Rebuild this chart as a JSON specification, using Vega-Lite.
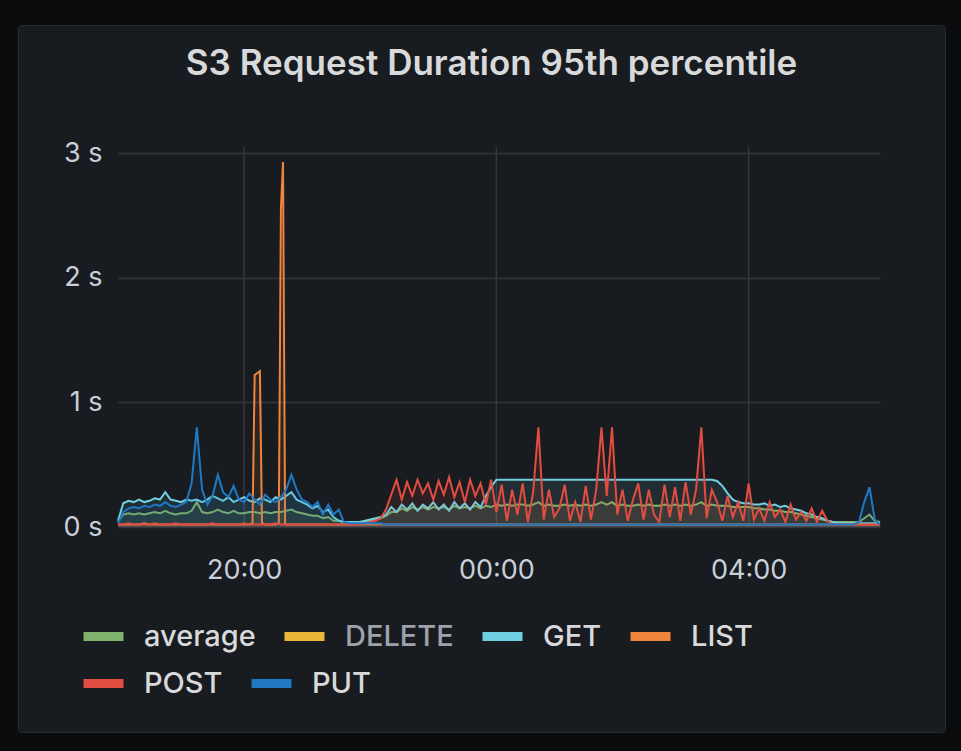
{
"$schema": "https://vega.github.io/schema/vega-lite/v6.json",
"width": 927, "height": 707,
"autosize": {"type": "none"},
"padding": {"left": 18, "top": 25, "right": 16, "bottom": 19},
"background": "#0b0c0e",
"view": {"fill": "#181b1f", "stroke": "#26292e", "strokeWidth": 1, "cornerRadius": 3},
"config": {"legend": {"gridAlign": "none"}},
"title": {"text": "S3 Request Duration 95th percentile", "frame": "group", "anchor": "middle", "orient": "top", "offset": -85, "baseline": "alphabetic", "dx": 10, "font": "Inter", "fontSize": 35, "fontWeight": 600, "color": "#d8d9da"},
"datasets": {
"grid": [{"t":"2024-01-01T20:00"},{"t":"2024-01-02T00:00"},{"t":"2024-01-02T04:00"}],
"s3": [
{"t":"2024-01-01T18:00","average":0.04,"GET":0.05,"LIST":0.02,"POST":0.02,"PUT":0.03},
{"t":"2024-01-01T18:05","average":0.1,"GET":0.19,"LIST":0.02,"POST":0.02,"PUT":0.12},
{"t":"2024-01-01T18:10","average":0.11,"GET":0.21,"LIST":0.02,"POST":0.03,"PUT":0.15},
{"t":"2024-01-01T18:15","average":0.1,"GET":0.2,"LIST":0.02,"POST":0.02,"PUT":0.16},
{"t":"2024-01-01T18:20","average":0.11,"GET":0.22,"LIST":0.02,"POST":0.02,"PUT":0.15},
{"t":"2024-01-01T18:25","average":0.1,"GET":0.2,"LIST":0.03,"POST":0.02,"PUT":0.17},
{"t":"2024-01-01T18:30","average":0.11,"GET":0.21,"LIST":0.02,"POST":0.02,"PUT":0.16},
{"t":"2024-01-01T18:35","average":0.12,"GET":0.23,"LIST":0.02,"POST":0.03,"PUT":0.18},
{"t":"2024-01-01T18:40","average":0.11,"GET":0.22,"LIST":0.02,"POST":0.02,"PUT":0.17},
{"t":"2024-01-01T18:45","average":0.13,"GET":0.28,"LIST":0.02,"POST":0.02,"PUT":0.2},
{"t":"2024-01-01T18:50","average":0.11,"GET":0.22,"LIST":0.02,"POST":0.02,"PUT":0.17},
{"t":"2024-01-01T18:55","average":0.1,"GET":0.21,"LIST":0.02,"POST":0.03,"PUT":0.16},
{"t":"2024-01-01T19:00","average":0.11,"GET":0.2,"LIST":0.02,"POST":0.02,"PUT":0.18},
{"t":"2024-01-01T19:05","average":0.11,"GET":0.22,"LIST":0.02,"POST":0.02,"PUT":0.2},
{"t":"2024-01-01T19:10","average":0.13,"GET":0.21,"LIST":0.02,"POST":0.02,"PUT":0.35},
{"t":"2024-01-01T19:15","average":0.2,"GET":0.22,"LIST":0.02,"POST":0.02,"PUT":0.8},
{"t":"2024-01-01T19:20","average":0.12,"GET":0.2,"LIST":0.02,"POST":0.02,"PUT":0.3},
{"t":"2024-01-01T19:25","average":0.11,"GET":0.22,"LIST":0.02,"POST":0.02,"PUT":0.18},
{"t":"2024-01-01T19:30","average":0.12,"GET":0.25,"LIST":0.02,"POST":0.03,"PUT":0.25},
{"t":"2024-01-01T19:35","average":0.14,"GET":0.23,"LIST":0.02,"POST":0.02,"PUT":0.42},
{"t":"2024-01-01T19:40","average":0.12,"GET":0.21,"LIST":0.02,"POST":0.02,"PUT":0.28},
{"t":"2024-01-01T19:45","average":0.11,"GET":0.24,"LIST":0.02,"POST":0.02,"PUT":0.24},
{"t":"2024-01-01T19:50","average":0.13,"GET":0.2,"LIST":0.02,"POST":0.02,"PUT":0.33},
{"t":"2024-01-01T19:55","average":0.11,"GET":0.22,"LIST":0.02,"POST":0.02,"PUT":0.22},
{"t":"2024-01-01T20:00","average":0.11,"GET":0.24,"LIST":0.02,"POST":0.03,"PUT":0.2},
{"t":"2024-01-01T20:05","average":0.12,"GET":0.21,"LIST":0.02,"POST":0.02,"PUT":0.27},
{"t":"2024-01-01T20:08","LIST":0.03},
{"t":"2024-01-01T20:10","average":0.12,"GET":0.2,"LIST":1.22,"POST":0.02,"PUT":0.22},
{"t":"2024-01-01T20:15","average":0.11,"GET":0.23,"LIST":1.25,"POST":0.02,"PUT":0.18},
{"t":"2024-01-01T20:17","LIST":0.03},
{"t":"2024-01-01T20:20","average":0.12,"GET":0.22,"LIST":0.02,"POST":0.02,"PUT":0.26},
{"t":"2024-01-01T20:25","average":0.11,"GET":0.2,"LIST":0.02,"POST":0.02,"PUT":0.22},
{"t":"2024-01-01T20:30","average":0.12,"GET":0.24,"LIST":0.02,"POST":0.03,"PUT":0.2},
{"t":"2024-01-01T20:33","LIST":0.03},
{"t":"2024-01-01T20:35","average":0.12,"GET":0.22,"LIST":2.55,"POST":0.02,"PUT":0.24},
{"t":"2024-01-01T20:37","LIST":2.93},
{"t":"2024-01-01T20:39","LIST":0.03},
{"t":"2024-01-01T20:40","average":0.13,"GET":0.25,"LIST":0.02,"POST":0.02,"PUT":0.3},
{"t":"2024-01-01T20:45","average":0.14,"GET":0.28,"LIST":0.02,"POST":0.02,"PUT":0.42},
{"t":"2024-01-01T20:50","average":0.12,"GET":0.22,"LIST":0.02,"POST":0.02,"PUT":0.3},
{"t":"2024-01-01T20:55","average":0.11,"GET":0.2,"LIST":0.02,"POST":0.02,"PUT":0.22},
{"t":"2024-01-01T21:00","average":0.1,"GET":0.18,"LIST":0.02,"POST":0.02,"PUT":0.2},
{"t":"2024-01-01T21:05","average":0.09,"GET":0.15,"LIST":0.02,"POST":0.02,"PUT":0.16},
{"t":"2024-01-01T21:10","average":0.09,"GET":0.17,"LIST":0.02,"POST":0.02,"PUT":0.2},
{"t":"2024-01-01T21:15","average":0.07,"GET":0.12,"LIST":0.02,"POST":0.02,"PUT":0.1},
{"t":"2024-01-01T21:20","average":0.08,"GET":0.14,"LIST":0.02,"POST":0.02,"PUT":0.18},
{"t":"2024-01-01T21:25","average":0.05,"GET":0.08,"LIST":0.02,"POST":0.02,"PUT":0.1},
{"t":"2024-01-01T21:30","average":0.05,"GET":0.05,"LIST":0.02,"POST":0.02,"PUT":0.14},
{"t":"2024-01-01T21:35","average":0.04,"GET":0.04,"LIST":0.02,"POST":0.02,"PUT":0.04},
{"t":"2024-01-01T21:40","average":0.04,"GET":0.04,"LIST":0.02,"POST":0.02,"PUT":0.03},
{"t":"2024-01-01T21:45","average":0.04,"GET":0.04,"LIST":0.02,"POST":0.02,"PUT":0.03},
{"t":"2024-01-01T21:50","average":0.04,"GET":0.04,"LIST":0.02,"POST":0.02,"PUT":0.03},
{"t":"2024-01-01T21:55","average":0.04,"GET":0.05,"LIST":0.02,"POST":0.03,"PUT":0.03},
{"t":"2024-01-01T22:00","average":0.05,"GET":0.06,"LIST":0.02,"POST":0.04,"PUT":0.03},
{"t":"2024-01-01T22:05","average":0.06,"GET":0.07,"LIST":0.02,"POST":0.05,"PUT":0.03},
{"t":"2024-01-01T22:10","average":0.07,"GET":0.08,"LIST":0.02,"POST":0.07,"PUT":0.03},
{"t":"2024-01-01T22:15","average":0.09,"GET":0.1,"LIST":0.02,"POST":0.14,"PUT":0.02},
{"t":"2024-01-01T22:20","average":0.12,"GET":0.16,"LIST":0.02,"POST":0.26,"PUT":0.02},
{"t":"2024-01-01T22:25","average":0.12,"GET":0.12,"LIST":0.02,"POST":0.38,"PUT":0.02},
{"t":"2024-01-01T22:30","average":0.15,"GET":0.18,"LIST":0.02,"POST":0.22,"PUT":0.02},
{"t":"2024-01-01T22:35","average":0.13,"GET":0.14,"LIST":0.02,"POST":0.36,"PUT":0.02},
{"t":"2024-01-01T22:40","average":0.16,"GET":0.19,"LIST":0.02,"POST":0.25,"PUT":0.02},
{"t":"2024-01-01T22:45","average":0.14,"GET":0.13,"LIST":0.02,"POST":0.38,"PUT":0.02},
{"t":"2024-01-01T22:50","average":0.16,"GET":0.18,"LIST":0.02,"POST":0.27,"PUT":0.02},
{"t":"2024-01-01T22:55","average":0.14,"GET":0.15,"LIST":0.02,"POST":0.35,"PUT":0.02},
{"t":"2024-01-01T23:00","average":0.16,"GET":0.2,"LIST":0.02,"POST":0.22,"PUT":0.02},
{"t":"2024-01-01T23:05","average":0.15,"GET":0.14,"LIST":0.02,"POST":0.37,"PUT":0.02},
{"t":"2024-01-01T23:10","average":0.16,"GET":0.18,"LIST":0.02,"POST":0.26,"PUT":0.02},
{"t":"2024-01-01T23:15","average":0.14,"GET":0.13,"LIST":0.02,"POST":0.4,"PUT":0.02},
{"t":"2024-01-01T23:20","average":0.17,"GET":0.2,"LIST":0.02,"POST":0.24,"PUT":0.02},
{"t":"2024-01-01T23:25","average":0.15,"GET":0.15,"LIST":0.02,"POST":0.36,"PUT":0.02},
{"t":"2024-01-01T23:30","average":0.16,"GET":0.19,"LIST":0.02,"POST":0.2,"PUT":0.02},
{"t":"2024-01-01T23:35","average":0.15,"GET":0.14,"LIST":0.02,"POST":0.38,"PUT":0.02},
{"t":"2024-01-01T23:40","average":0.17,"GET":0.2,"LIST":0.02,"POST":0.25,"PUT":0.02},
{"t":"2024-01-01T23:45","average":0.15,"GET":0.16,"LIST":0.02,"POST":0.35,"PUT":0.02},
{"t":"2024-01-01T23:50","average":0.17,"GET":0.25,"LIST":0.02,"POST":0.18,"PUT":0.02},
{"t":"2024-01-01T23:55","average":0.16,"GET":0.32,"LIST":0.02,"POST":0.38,"PUT":0.02},
{"t":"2024-01-02T00:00","average":0.18,"GET":0.38,"LIST":0.02,"POST":0.12,"PUT":0.02},
{"t":"2024-01-02T00:05","average":0.17,"GET":0.38,"LIST":0.02,"POST":0.34,"PUT":0.02},
{"t":"2024-01-02T00:10","average":0.18,"GET":0.38,"LIST":0.02,"POST":0.05,"PUT":0.02},
{"t":"2024-01-02T00:15","average":0.17,"GET":0.38,"LIST":0.02,"POST":0.3,"PUT":0.02},
{"t":"2024-01-02T00:20","average":0.18,"GET":0.38,"LIST":0.02,"POST":0.1,"PUT":0.02},
{"t":"2024-01-02T00:25","average":0.18,"GET":0.38,"LIST":0.02,"POST":0.35,"PUT":0.02},
{"t":"2024-01-02T00:30","average":0.17,"GET":0.38,"LIST":0.02,"POST":0.04,"PUT":0.02},
{"t":"2024-01-02T00:35","average":0.18,"GET":0.38,"LIST":0.02,"POST":0.28,"PUT":0.02},
{"t":"2024-01-02T00:40","average":0.2,"GET":0.38,"LIST":0.02,"POST":0.8,"PUT":0.02},
{"t":"2024-01-02T00:45","average":0.17,"GET":0.38,"LIST":0.02,"POST":0.06,"PUT":0.02},
{"t":"2024-01-02T00:50","average":0.18,"GET":0.38,"LIST":0.02,"POST":0.3,"PUT":0.02},
{"t":"2024-01-02T00:55","average":0.17,"GET":0.38,"LIST":0.02,"POST":0.08,"PUT":0.02},
{"t":"2024-01-02T01:00","average":0.17,"GET":0.38,"LIST":0.02,"POST":0.15,"PUT":0.02},
{"t":"2024-01-02T01:05","average":0.18,"GET":0.38,"LIST":0.02,"POST":0.34,"PUT":0.02},
{"t":"2024-01-02T01:10","average":0.17,"GET":0.38,"LIST":0.02,"POST":0.05,"PUT":0.02},
{"t":"2024-01-02T01:15","average":0.18,"GET":0.38,"LIST":0.02,"POST":0.2,"PUT":0.02},
{"t":"2024-01-02T01:20","average":0.17,"GET":0.38,"LIST":0.02,"POST":0.04,"PUT":0.02},
{"t":"2024-01-02T01:25","average":0.18,"GET":0.38,"LIST":0.02,"POST":0.33,"PUT":0.02},
{"t":"2024-01-02T01:30","average":0.17,"GET":0.38,"LIST":0.02,"POST":0.06,"PUT":0.02},
{"t":"2024-01-02T01:35","average":0.18,"GET":0.38,"LIST":0.02,"POST":0.3,"PUT":0.02},
{"t":"2024-01-02T01:40","average":0.2,"GET":0.38,"LIST":0.02,"POST":0.8,"PUT":0.02},
{"t":"2024-01-02T01:45","average":0.18,"GET":0.38,"LIST":0.02,"POST":0.25,"PUT":0.02},
{"t":"2024-01-02T01:50","average":0.2,"GET":0.38,"LIST":0.02,"POST":0.8,"PUT":0.02},
{"t":"2024-01-02T01:55","average":0.17,"GET":0.38,"LIST":0.02,"POST":0.1,"PUT":0.02},
{"t":"2024-01-02T02:00","average":0.18,"GET":0.38,"LIST":0.02,"POST":0.3,"PUT":0.02},
{"t":"2024-01-02T02:05","average":0.17,"GET":0.38,"LIST":0.02,"POST":0.05,"PUT":0.02},
{"t":"2024-01-02T02:10","average":0.17,"GET":0.38,"LIST":0.02,"POST":0.22,"PUT":0.02},
{"t":"2024-01-02T02:15","average":0.18,"GET":0.38,"LIST":0.02,"POST":0.35,"PUT":0.02},
{"t":"2024-01-02T02:20","average":0.17,"GET":0.38,"LIST":0.02,"POST":0.06,"PUT":0.02},
{"t":"2024-01-02T02:25","average":0.18,"GET":0.38,"LIST":0.02,"POST":0.3,"PUT":0.02},
{"t":"2024-01-02T02:30","average":0.17,"GET":0.38,"LIST":0.02,"POST":0.1,"PUT":0.02},
{"t":"2024-01-02T02:35","average":0.17,"GET":0.38,"LIST":0.02,"POST":0.04,"PUT":0.02},
{"t":"2024-01-02T02:40","average":0.18,"GET":0.38,"LIST":0.02,"POST":0.34,"PUT":0.02},
{"t":"2024-01-02T02:45","average":0.17,"GET":0.38,"LIST":0.02,"POST":0.08,"PUT":0.02},
{"t":"2024-01-02T02:50","average":0.18,"GET":0.38,"LIST":0.02,"POST":0.32,"PUT":0.02},
{"t":"2024-01-02T02:55","average":0.17,"GET":0.38,"LIST":0.02,"POST":0.05,"PUT":0.02},
{"t":"2024-01-02T03:00","average":0.18,"GET":0.38,"LIST":0.02,"POST":0.36,"PUT":0.02},
{"t":"2024-01-02T03:05","average":0.17,"GET":0.38,"LIST":0.02,"POST":0.1,"PUT":0.02},
{"t":"2024-01-02T03:10","average":0.18,"GET":0.38,"LIST":0.02,"POST":0.3,"PUT":0.02},
{"t":"2024-01-02T03:15","average":0.2,"GET":0.38,"LIST":0.02,"POST":0.8,"PUT":0.02},
{"t":"2024-01-02T03:20","average":0.17,"GET":0.38,"LIST":0.02,"POST":0.07,"PUT":0.02},
{"t":"2024-01-02T03:25","average":0.18,"GET":0.38,"LIST":0.02,"POST":0.3,"PUT":0.02},
{"t":"2024-01-02T03:30","average":0.17,"GET":0.37,"LIST":0.02,"POST":0.2,"PUT":0.02},
{"t":"2024-01-02T03:35","average":0.17,"GET":0.33,"LIST":0.02,"POST":0.05,"PUT":0.02},
{"t":"2024-01-02T03:40","average":0.17,"GET":0.27,"LIST":0.02,"POST":0.25,"PUT":0.02},
{"t":"2024-01-02T03:45","average":0.16,"GET":0.22,"LIST":0.02,"POST":0.08,"PUT":0.02},
{"t":"2024-01-02T03:50","average":0.16,"GET":0.2,"LIST":0.02,"POST":0.2,"PUT":0.02},
{"t":"2024-01-02T03:55","average":0.16,"GET":0.19,"LIST":0.02,"POST":0.05,"PUT":0.02},
{"t":"2024-01-02T04:00","average":0.16,"GET":0.19,"LIST":0.02,"POST":0.35,"PUT":0.02},
{"t":"2024-01-02T04:05","average":0.15,"GET":0.18,"LIST":0.02,"POST":0.06,"PUT":0.02},
{"t":"2024-01-02T04:10","average":0.15,"GET":0.18,"LIST":0.02,"POST":0.15,"PUT":0.02},
{"t":"2024-01-02T04:15","average":0.14,"GET":0.19,"LIST":0.02,"POST":0.05,"PUT":0.02},
{"t":"2024-01-02T04:20","average":0.14,"GET":0.17,"LIST":0.02,"POST":0.2,"PUT":0.02},
{"t":"2024-01-02T04:25","average":0.13,"GET":0.18,"LIST":0.02,"POST":0.08,"PUT":0.02},
{"t":"2024-01-02T04:30","average":0.13,"GET":0.16,"LIST":0.02,"POST":0.14,"PUT":0.02},
{"t":"2024-01-02T04:35","average":0.12,"GET":0.17,"LIST":0.02,"POST":0.04,"PUT":0.02},
{"t":"2024-01-02T04:40","average":0.12,"GET":0.15,"LIST":0.02,"POST":0.18,"PUT":0.02},
{"t":"2024-01-02T04:45","average":0.11,"GET":0.14,"LIST":0.02,"POST":0.06,"PUT":0.02},
{"t":"2024-01-02T04:50","average":0.1,"GET":0.13,"LIST":0.02,"POST":0.12,"PUT":0.02},
{"t":"2024-01-02T04:55","average":0.09,"GET":0.11,"LIST":0.02,"POST":0.05,"PUT":0.02},
{"t":"2024-01-02T05:00","average":0.08,"GET":0.1,"LIST":0.02,"POST":0.15,"PUT":0.02},
{"t":"2024-01-02T05:05","average":0.07,"GET":0.08,"LIST":0.02,"POST":0.04,"PUT":0.02},
{"t":"2024-01-02T05:10","average":0.06,"GET":0.07,"LIST":0.02,"POST":0.13,"PUT":0.02},
{"t":"2024-01-02T05:15","average":0.05,"GET":0.05,"LIST":0.02,"POST":0.05,"PUT":0.02},
{"t":"2024-01-02T05:20","average":0.04,"GET":0.04,"LIST":0.02,"POST":0.02,"PUT":0.02},
{"t":"2024-01-02T05:25","average":0.04,"GET":0.03,"LIST":0.02,"POST":0.02,"PUT":0.02},
{"t":"2024-01-02T05:30","average":0.04,"GET":0.03,"LIST":0.02,"POST":0.02,"PUT":0.02},
{"t":"2024-01-02T05:35","average":0.04,"GET":0.03,"LIST":0.02,"POST":0.02,"PUT":0.02},
{"t":"2024-01-02T05:40","average":0.04,"GET":0.03,"LIST":0.02,"POST":0.02,"PUT":0.02},
{"t":"2024-01-02T05:45","average":0.04,"GET":0.03,"LIST":0.02,"POST":0.02,"PUT":0.04},
{"t":"2024-01-02T05:50","average":0.07,"GET":0.03,"LIST":0.02,"POST":0.02,"PUT":0.2},
{"t":"2024-01-02T05:55","average":0.1,"GET":0.03,"LIST":0.02,"POST":0.02,"PUT":0.32},
{"t":"2024-01-02T06:00","average":0.05,"GET":0.03,"LIST":0.02,"POST":0.02,"PUT":0.06},
{"t":"2024-01-02T06:05","average":0.04,"GET":0.03,"LIST":0.02,"POST":0.02,"PUT":0.02}
]},
"layer": [
  {"data": {"name": "grid"},
   "mark": {"type": "rule", "color": "#34373c", "strokeWidth": 1.5},
   "encoding": {
     "x": {"field": "t", "type": "temporal"},
     "y": {"datum": 0, "type": "quantitative"},
     "y2": {"datum": 3.05}
   }},
  {"data": {"name": "s3"},
   "transform": [
     {"fold": ["average", "GET", "LIST"], "as": ["series", "v"]},
     {"filter": "isValid(datum.v)"}
   ],
   "encoding": {
     "x": {"field": "t", "type": "temporal"},
     "y": {"field": "v", "type": "quantitative", "stack": null},
     "color": {"field": "series", "type": "nominal",
       "scale": {"domain": ["average", "DELETE", "GET", "LIST"], "range": ["#7EB26D", "#EAB839", "#6ED0E0", "#EF843C"]},
       "legend": {"title": null, "orient": "none", "legendX": 61, "legendY": 587, "direction": "horizontal",
         "symbolType": "stroke", "symbolSize": 1600, "symbolStrokeWidth": 9, "symbolOpacity": 1, "labelFont": "Inter", "labelFontSize": 29, "labelFontWeight": 500, "labelColor": "#d8d9da",
         "labelOffset": 16, "columnPadding": 10, "padding": 0,
         "encode": {"labels": {"update": {"fill": {"signal": "datum.value === 'DELETE' ? '#9ea3ab' : '#d8d9da'"}}}}}}
   },
   "layer": [
     {"mark": {"type": "area", "fillOpacity": 0.1, "interpolate": "linear"}},
     {"mark": {"type": "line", "strokeWidth": 2, "interpolate": "linear"}}
   ]},
  {"data": {"name": "s3"},
   "transform": [
     {"fold": ["POST", "PUT"], "as": ["series", "v"]},
     {"filter": "isValid(datum.v)"}
   ],
   "encoding": {
     "x": {"field": "t", "type": "temporal"},
     "y": {"field": "v", "type": "quantitative", "stack": null},
     "color": {"field": "series", "type": "nominal",
       "scale": {"domain": ["POST", "PUT"], "range": ["#E24D42", "#1F78C1"]},
       "legend": {"title": null, "orient": "none", "legendX": 61, "legendY": 634, "direction": "horizontal",
         "symbolType": "stroke", "symbolSize": 1600, "symbolStrokeWidth": 9, "symbolOpacity": 1, "labelFont": "Inter", "labelFontSize": 29, "labelFontWeight": 500, "labelColor": "#d8d9da",
         "labelOffset": 16, "columnPadding": 10, "padding": 0}}
   },
   "layer": [
     {"mark": {"type": "area", "fillOpacity": 0.1, "interpolate": "linear"}},
     {"mark": {"type": "line", "strokeWidth": 2, "interpolate": "linear"}}
   ]}
],
"resolve": {"scale": {"x": "shared", "y": "shared", "color": "independent"}, "legend": {"color": "independent"}},
"encoding": {
  "x": {"field": "t", "type": "temporal",
    "scale": {"domain": [{"year": 2024, "month": 1, "date": 1, "hours": 18}, {"year": 2024, "month": 1, "date": 2, "hours": 6, "minutes": 5}], "range": [100, 862]},
    "axis": {"title": null, "values": [{"year": 2024, "month": 1, "date": 1, "hours": 20}, {"year": 2024, "month": 1, "date": 2, "hours": 0}, {"year": 2024, "month": 1, "date": 2, "hours": 4}],
      "format": "%H:%M", "labelFont": "Inter", "labelFontSize": 27, "labelColor": "#c7d0d9", "domain": false, "ticks": false, "tickSize": 0,
      "labelPadding": 30, "offset": -205, "grid": false, "labelFlush": false}},
  "y": {"type": "quantitative",
    "scale": {"domain": [0, 3.05], "range": [502, 122], "nice": false, "zero": true},
    "axis": {"title": null, "values": [0, 1, 2, 3], "labelExpr": "datum.value + ' s'", "labelFont": "Inter", "labelFontSize": 27, "labelColor": "#c7d0d9",
      "domain": false, "ticks": false, "tickSize": 0, "labelPadding": 16, "offset": -100, "grid": true, "gridColor": "#34373c", "gridWidth": 1.5}}
}
}
